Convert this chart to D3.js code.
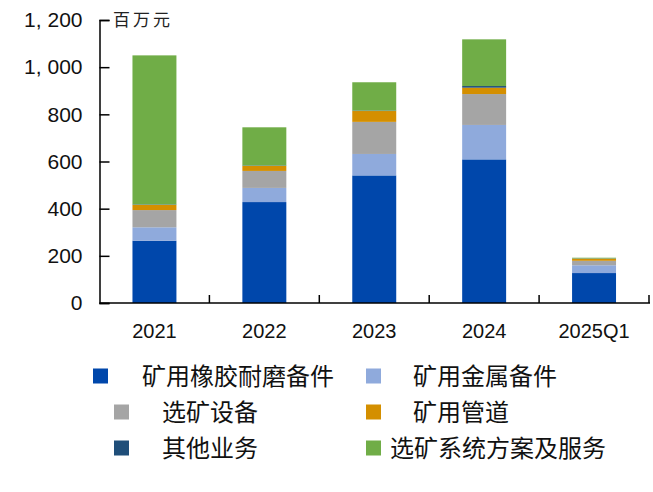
<!DOCTYPE html>
<html><head><meta charset="utf-8">
<script src="https://cdn.jsdelivr.net/npm/d3@7"></script>
<style>
html,body{margin:0;padding:0;background:#fff;}
svg{display:block;}
</style></head>
<body>
<svg id="chart" width="653" height="492"></svg>
<script>
const categories = ["2021", "2022", "2023", "2024", "2025Q1"];
const seriesNames = ["矿用橡胶耐磨备件", "矿用金属备件", "选矿设备", "矿用管道", "其他业务", "选矿系统方案及服务"];
const rubberParts = [264, 428, 541, 609, 127];
const metalParts = [57, 60, 91, 146, 33];
const equipment = [73, 72, 136, 131, 19];
const pipes = [22, 21, 46, 27, 9];
const others = [2, 2, 2, 7, 1];
const solutions = [632, 162, 120, 198, 3];
const yTicks = [0, 200, 400, 600, 800, 1000, 1200];
const unitLabel = "百万元";
const colors = ["#0047AB", "#8FAADC", "#A5A5A5", "#D48F00", "#1F4E79", "#70AD47"];

(function () {
const seriesValues = [rubberParts, metalParts, equipment, pipes, others, solutions];
const rows = categories.map((c, i) => {
  const r = {cat: c};
  seriesNames.forEach((s, j) => r[s] = seriesValues[j][i]);
  return r;
});
const stacked = d3.stack().keys(seriesNames)(rows);

const svg = d3.select("#chart");
const mLeft = 99.5, mRight = 649, mTop = 20, mBottom = 303;
const x = d3.scaleBand().domain(categories).range([mLeft, mRight]).padding(0);
const y = d3.scaleLinear().domain([0, 1200]).range([mBottom, mTop]);
const barW = x.bandwidth() * 0.4;
const color = d3.scaleOrdinal().domain(seriesNames).range(colors);

const numFont = "'Liberation Sans', Arial, sans-serif";
const cjkFont = "'Noto Sans CJK SC', sans-serif";

// bars
svg.append("g").selectAll("g").data(stacked).join("g")
  .attr("fill", d => color(d.key))
  .selectAll("rect").data(d => d).join("rect")
  .attr("x", d => x(d.data.cat) + x.bandwidth() / 2 - barW / 2)
  .attr("width", barW)
  .attr("y", d => y(d[1]))
  .attr("height", d => Math.max(0, y(d[0]) - y(d[1])));

// y axis
const yAxis = d3.axisLeft(y).tickValues(yTicks)
  .tickFormat(d => d3.format(",")(d).replace(",", ", "))
  .tickSize(-10).tickPadding(17);
const gy = svg.append("g").attr("transform", `translate(${mLeft},0)`).call(yAxis);
gy.select(".domain").attr("stroke", "#000").attr("stroke-width", 1.5);
gy.selectAll(".tick line").attr("stroke", "#000").attr("stroke-width", 1.5);
gy.selectAll("text").attr("font-family", numFont).attr("font-size", 21).attr("fill", "#111");

// x axis
const gx = svg.append("g").attr("transform", `translate(0,${mBottom})`);
gx.append("line").attr("x1", mLeft).attr("x2", mRight + 1).attr("y1", 0).attr("y2", 0)
  .attr("stroke", "#000").attr("stroke-width", 1.5);
gx.selectAll(".bt").data(categories).join("line").attr("class", "bt")
  .attr("x1", d => x(d) + x.bandwidth()).attr("x2", d => x(d) + x.bandwidth())
  .attr("y1", 0).attr("y2", -8).attr("stroke", "#000").attr("stroke-width", 1.5);
const xAxis = d3.axisBottom(x).tickSize(0).tickPadding(21);
const gxl = svg.append("g").attr("transform", `translate(0,${mBottom})`).call(xAxis);
gxl.select(".domain").remove();
gxl.selectAll("text").attr("font-family", numFont).attr("font-size", 20).attr("fill", "#111");

// unit label
svg.append("text").attr("x", 113).attr("y", 26).text(unitLabel)
  .attr("font-family", cjkFont).attr("font-size", 17).attr("letter-spacing", 3).attr("fill", "#222");

// legend
const legendPos = [
  {sx: 93, tx: 142, y: 376},
  {sx: 366, tx: 413, y: 376},
  {sx: 114, tx: 162, y: 412},
  {sx: 366, tx: 413, y: 412},
  {sx: 114, tx: 162, y: 448},
  {sx: 366, tx: 390, y: 448}
];
const lg = svg.append("g");
seriesNames.forEach((s, i) => {
  const p = legendPos[i];
  lg.append("rect").attr("x", p.sx).attr("y", p.y - 7.5).attr("width", 15).attr("height", 15)
    .attr("fill", color(s));
  lg.append("text").attr("x", p.tx).attr("y", p.y).attr("dy", "0.36em").text(s)
    .attr("font-family", cjkFont).attr("font-size", 24).attr("fill", "#111");
});
})();
</script>
</body></html>
